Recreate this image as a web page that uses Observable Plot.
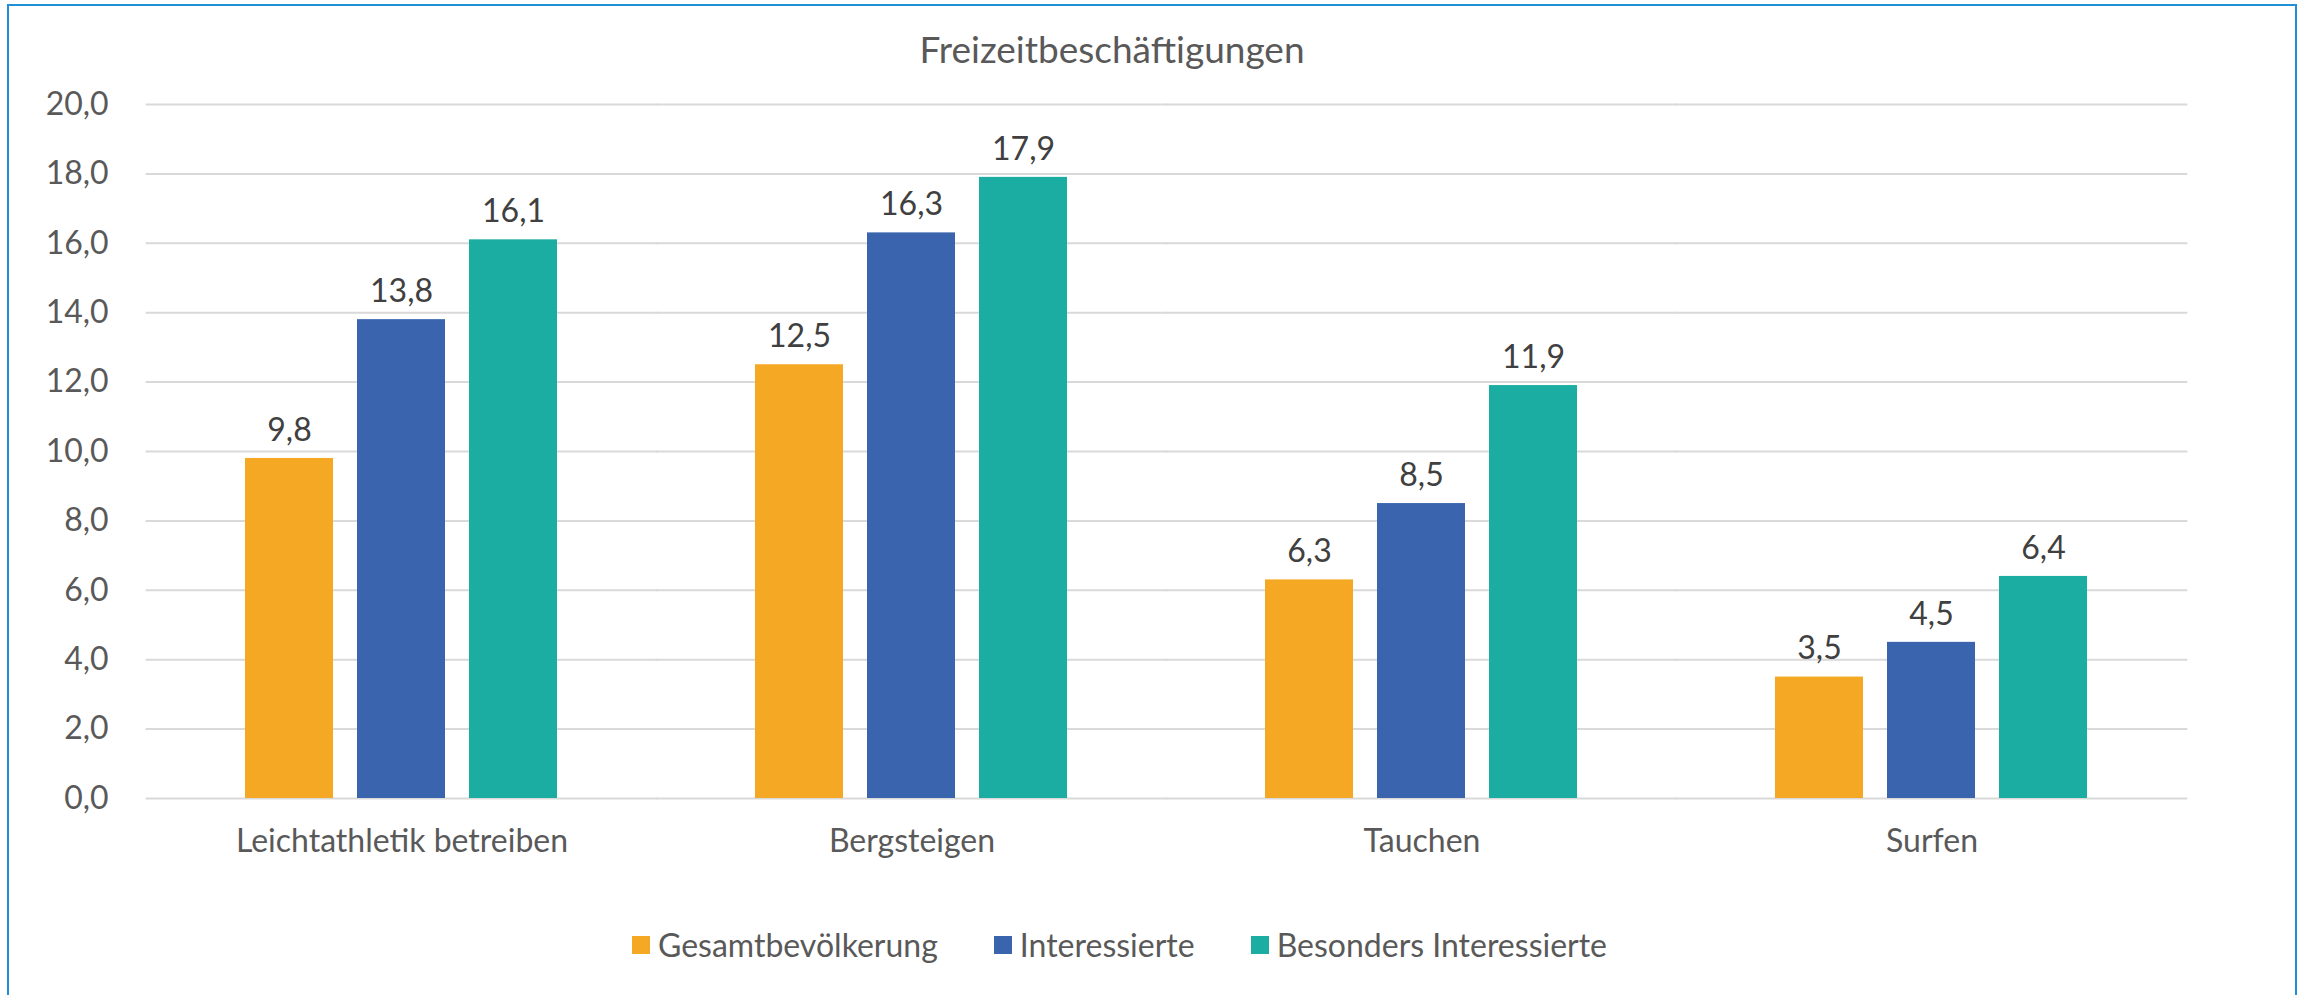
<!DOCTYPE html>
<html>
<head>
<meta charset="utf-8">
<script src="https://cdn.jsdelivr.net/npm/d3@7"></script>
<script src="https://cdn.jsdelivr.net/npm/@observablehq/plot@0.6"></script>
<style>
  html, body { margin: 0; padding: 0; background: #fff; width: 2299px; height: 995px; overflow: hidden; }
  #frame { position: absolute; left: 7px; top: 4px; width: 2290px; height: 1100px; box-sizing: border-box; border: 2px solid #1f8fd6; }
  #chart { position: absolute; left: 0; top: 0; }
  #title { position: absolute; left: 612px; width: 1000px; top: 30px; text-align: center; font-family: Lato, sans-serif; font-size: 37px; line-height: 37px; color: #595959; }
  #legend { position: absolute; left: 632px; top: 929px; display: flex; align-items: center; font-family: Lato, sans-serif; font-size: 32px; line-height: 32px; color: #595959; white-space: nowrap; }
  .item { display: flex; align-items: center; margin-right: 56px; }
  .sw { width: 18px; height: 18px; margin-right: 8px; }
</style>
</head>
<body>
<div id="frame"></div>
<div id="chart"></div>
<div id="title"></div>
<div id="legend"></div>
<script>
const chartTitle = "Freizeitbeschäftigungen";
const categories = ["Leichtathletik betreiben", "Bergsteigen", "Tauchen", "Surfen"];
const series = ["Gesamtbevölkerung", "Interessierte", "Besonders Interessierte"];
const gesamt = [9.8, 12.5, 6.3, 3.5];
const interessierte = [13.8, 16.3, 8.5, 4.5];
const besonders = [16.1, 17.9, 11.9, 6.4];
const colors = ["#f5a823", "#3a65ae", "#1bada2"];
const yTicks = [0, 2, 4, 6, 8, 10, 12, 14, 16, 18, 20];

const seriesValues = [gesamt, interessierte, besonders];
const data = categories.flatMap((c, i) => series.map((s, j) => ({category: c, series: s, value: seriesValues[j][i]})));
const fmt = d => d.toFixed(1).replace(".", ",");

const W = 2299, H = 880;
const mL = 145, mR = 111, mT = 104, mB = 82;
const pInner = 0.3833, pOuter = pInner / 2;
const step = (W - mL - mR) / categories.length;
const ext = step * pOuter;

const plot = Plot.plot({
  width: W, height: H,
  marginLeft: mL, marginRight: mR, marginTop: mT, marginBottom: mB,
  style: {fontFamily: "Lato, sans-serif", fontSize: "32px", color: "#595959", background: "transparent", overflow: "visible"},
  facet: {data, x: "category"},
  fx: {domain: categories, paddingInner: pInner, paddingOuter: pOuter, axis: "bottom", tickSize: 0, tickPadding: 31, label: null, fontSize: 33},
  x: {domain: series, paddingInner: 0.212, paddingOuter: 0, axis: null},
  y: {domain: [0, 20], ticks: yTicks, tickFormat: fmt, tickSize: 0, tickPadding: ext + 38, label: null},
  color: {domain: series, range: colors},
  marks: [
    Plot.ruleY(yTicks, {stroke: "#d9d9d9", strokeWidth: 2, insetLeft: -ext - 0.5, insetRight: -ext - 0.5}),
    Plot.barY(data, {x: "series", y: "value", fill: "series", inset: 0}),
    Plot.text(data, {x: "series", y: "value", text: d => fmt(d.value), dy: -28, fill: "#404040", fontSize: 32})
  ]
});
document.getElementById("chart").appendChild(plot);
document.getElementById("title").textContent = chartTitle;

const legend = document.getElementById("legend");
series.forEach((s, i) => {
  const item = document.createElement("div");
  item.className = "item";
  const sw = document.createElement("div");
  sw.className = "sw";
  sw.style.background = colors[i];
  const label = document.createElement("span");
  label.textContent = s;
  item.appendChild(sw);
  item.appendChild(label);
  legend.appendChild(item);
});
</script>
</body>
</html>
